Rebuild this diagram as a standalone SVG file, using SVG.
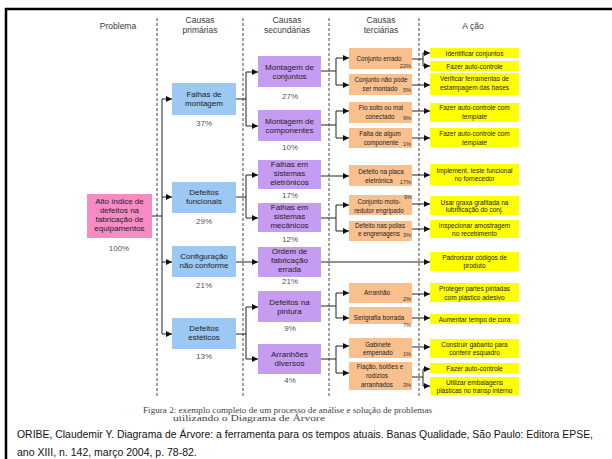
<svg xmlns="http://www.w3.org/2000/svg" width="612" height="459" viewBox="0 0 612 459">
  <defs>
    <marker id="ah" viewBox="0 0 6 6" refX="6" refY="3" markerWidth="6" markerHeight="6" markerUnits="userSpaceOnUse" orient="auto">
      <path d="M0,0 L6,3 L0,6 z" fill="#111"/>
    </marker>
    <style>
      text { font-family: "Liberation Sans", Arial, sans-serif; text-anchor: middle; fill: #222; }
      .hdr { font-size: 8.5px; fill: #3a3a3a; }
      .big { font-size: 8px; }
      .pct { font-size: 8px; fill: #555; }
      .sm { font-size: 6.3px; }
      .act { font-size: 6.5px; }
      .tp { font-size: 5.6px; text-anchor: end; fill: #333; }
      .it { font-style: italic; }
      .prob { fill: #F78BC3; }
      .prim { fill: #9CC8F4; }
      .sec { fill: #C69CF2; }
      .ter { fill: #F9C08E; }
      .yel { fill: #FFFF00; }
      .ln { stroke: #222; stroke-width: 1; fill: none; }
      .ar { stroke: #222; stroke-width: 1; fill: none; marker-end: url(#ah); }
      .dash { stroke: #333; stroke-width: 0.9; stroke-dasharray: 3 2; fill: none; }
      .cap { font-family: "Liberation Serif", "Times New Roman", serif; font-size: 7.5px; fill: #444; text-anchor: start; }
      .ref { font-size: 10.5px; fill: #111; text-anchor: start; }
    </style>
  </defs>

  <rect width="612" height="459" fill="#fff"/>

  <!-- page frame -->
  <path d="M6,459 V9 H612" stroke="#000" stroke-width="2.5" fill="none"/>

  <!-- column headers -->
  <g id="headers">
    <text class="hdr" x="118" y="29">Problema</text>
    <text class="hdr" x="200" y="23">Causas</text>
    <text class="hdr" x="200" y="33">primárias</text>
    <text class="hdr" x="287" y="23">Causas</text>
    <text class="hdr" x="287" y="33">secundárias</text>
    <text class="hdr" x="381" y="23">Causas</text>
    <text class="hdr" x="381" y="33">terciárias</text>
    <text class="hdr" x="473" y="29">A ção</text>
  </g>

  <!-- column separators -->
  <g id="separators">
    <path class="dash" d="M157,18 V397"/>
    <path class="dash" d="M243,18 V397"/>
    <path class="dash" d="M329,18 V397"/>
    <path class="dash" d="M419,18 V397"/>
  </g>

  <!-- connectors -->
  <g id="connectors">
    <!-- problem to primary causes -->
    <path class="ln" d="M152,216 H162 M162,99 V334"/>
    <path class="ar" d="M162,99 H172"/>
    <path class="ar" d="M162,197 H172"/>
    <path class="ar" d="M162,262 H172"/>
    <path class="ar" d="M162,334 H172"/>

    <!-- primary to secondary -->
    <path class="ln" d="M236,99 H246 M246,72 V126"/>
    <path class="ar" d="M246,72 H258"/>
    <path class="ar" d="M246,126 H258"/>
    <path class="ln" d="M236,197 H246 M246,175 V218"/>
    <path class="ar" d="M246,175 H258"/>
    <path class="ar" d="M246,218 H258"/>
    <path class="ar" d="M236,262 H258"/>
    <path class="ln" d="M236,334 H246 M246,307 V359"/>
    <path class="ar" d="M246,307 H258"/>
    <path class="ar" d="M246,359 H258"/>

    <!-- secondary to tertiary -->
    <path class="ln" d="M321,71 H336 M336,58 V85"/>
    <path class="ar" d="M336,58 H349"/>
    <path class="ar" d="M336,85 H349"/>
    <path class="ln" d="M321,125 H336 M336,111 V138"/>
    <path class="ar" d="M336,111 H349"/>
    <path class="ar" d="M336,138 H349"/>
    <path class="ar" d="M321,176 H349"/>
    <path class="ln" d="M321,218 H336 M336,205 V231"/>
    <path class="ar" d="M336,205 H349"/>
    <path class="ar" d="M336,231 H349"/>
    <path class="ar" d="M321,262 H430"/>
    <path class="ln" d="M321,306 H336 M336,293 V318"/>
    <path class="ar" d="M336,293 H349"/>
    <path class="ar" d="M336,318 H349"/>
    <path class="ln" d="M321,359 H336 M336,346 V373"/>
    <path class="ar" d="M336,346 H349"/>
    <path class="ar" d="M336,373 H349"/>

    <!-- tertiary to actions -->
    <path class="ln" d="M412,59 H423 M423,53 V66"/>
    <path class="ar" d="M423,53 H430"/>
    <path class="ar" d="M423,66 H430"/>
    <path class="ar" d="M412,85 H430"/>
    <path class="ar" d="M412,111 H430"/>
    <path class="ar" d="M412,138 H430"/>
    <path class="ar" d="M412,175 H430"/>
    <path class="ar" d="M412,204 H430"/>
    <path class="ar" d="M412,229 H430"/>
    <path class="ar" d="M412,294 H430"/>
    <path class="ar" d="M412,318 H430"/>
    <path class="ar" d="M412,347 H430"/>
    <path class="ln" d="M412,377 H423 M423,369 V386"/>
    <path class="ar" d="M423,369 H430"/>
    <path class="ar" d="M423,386 H430"/>
  </g>

  <!-- problem -->
  <g id="problem">
    <rect class="prob" x="87" y="194" width="65" height="44"/>
    <text class="big" x="119.5" y="204">Alto índice de</text>
    <text class="big" x="119.5" y="213">defeitos na</text>
    <text class="big" x="119.5" y="222">fabricação de</text>
    <text class="big" x="119.5" y="231">equipamentos</text>
    <text class="pct" x="119" y="251">100%</text>
  </g>

  <!-- primary causes -->
  <g id="p-montagem">
    <rect class="prim" x="172" y="83" width="64" height="32"/>
    <text class="big" x="204" y="97">Falhas de</text>
    <text class="big" x="204" y="106">montagem</text>
    <text class="pct" x="204" y="126">37%</text>
  </g>
  <g id="p-funcionais">
    <rect class="prim" x="172" y="182" width="64" height="31"/>
    <text class="big" x="204" y="195">Defeitos</text>
    <text class="big" x="204" y="204">funcionais</text>
    <text class="pct" x="204" y="224">29%</text>
  </g>
  <g id="p-configuracao">
    <rect class="prim" x="172" y="246" width="64" height="31"/>
    <text class="big" x="204" y="259">Configuração</text>
    <text class="big" x="204" y="268">não conforme</text>
    <text class="pct" x="204" y="288">21%</text>
  </g>
  <g id="p-esteticos">
    <rect class="prim" x="172" y="318" width="64" height="31"/>
    <text class="big" x="204" y="331">Defeitos</text>
    <text class="big" x="204" y="340">estéticos</text>
    <text class="pct" x="204" y="359">13%</text>
  </g>

  <!-- secondary causes -->
  <g id="s-conjuntos">
    <rect class="sec" x="258" y="56" width="63" height="31"/>
    <text class="big" x="289.5" y="70">Montagem de</text>
    <text class="big" x="289.5" y="79">conjuntos</text>
    <text class="pct" x="290" y="99">27%</text>
  </g>
  <g id="s-componentes">
    <rect class="sec" x="258" y="110" width="63" height="31"/>
    <text class="big" x="289.5" y="124">Montagem de</text>
    <text class="big" x="289.5" y="133">componentes</text>
    <text class="pct" x="290" y="150">10%</text>
  </g>
  <g id="s-eletronicos">
    <rect class="sec" x="258" y="160" width="63" height="29"/>
    <text class="big" x="289.5" y="167">Falhas em</text>
    <text class="big" x="289.5" y="176">sistemas</text>
    <text class="big" x="289.5" y="185">eletrônicos</text>
    <text class="pct" x="290" y="198">17%</text>
  </g>
  <g id="s-mecanicos">
    <rect class="sec" x="258" y="203" width="63" height="29"/>
    <text class="big" x="289.5" y="210">Falhas em</text>
    <text class="big" x="289.5" y="219">sistemas</text>
    <text class="big" x="289.5" y="228">mecânicos</text>
    <text class="pct" x="290" y="242">12%</text>
  </g>
  <g id="s-ordem">
    <rect class="sec" x="258" y="247" width="63" height="30"/>
    <text class="big" x="289.5" y="254">Ordem de</text>
    <text class="big" x="289.5" y="263">fabricação</text>
    <text class="big" x="289.5" y="272">errada</text>
    <text class="pct" x="290" y="284">21%</text>
  </g>
  <g id="s-pintura">
    <rect class="sec" x="258" y="291" width="63" height="31"/>
    <text class="big" x="289.5" y="305">Defeitos na</text>
    <text class="big" x="289.5" y="314">pintura</text>
    <text class="pct" x="290" y="331">9%</text>
  </g>
  <g id="s-arranhoes">
    <rect class="sec" x="258" y="344" width="63" height="30"/>
    <text class="big" x="289.5" y="357">Arranhões</text>
    <text class="big" x="289.5" y="366">diversos</text>
    <text class="pct" x="290" y="383">4%</text>
  </g>

  <!-- tertiary causes -->
  <g id="t-errado">
    <rect class="ter" x="349" y="48" width="63" height="21"/>
    <text class="sm" x="379" y="61">Conjunto errado</text>
    <text class="tp" x="411" y="68">22%</text>
  </g>
  <g id="t-montado">
    <rect class="ter" x="349" y="74" width="63" height="21"/>
    <text class="sm" x="381" y="82">Conjunto não pode</text>
    <text class="sm" x="380" y="91">ser montado</text>
    <text class="tp" x="411" y="92">5%</text>
  </g>
  <g id="t-fio">
    <rect class="ter" x="349" y="102" width="63" height="21"/>
    <text class="sm" x="381" y="110">Fio solto ou mal</text>
    <text class="sm" x="380" y="119">conectado</text>
    <text class="tp" x="411" y="120">9%</text>
  </g>
  <g id="t-falta">
    <rect class="ter" x="349" y="128" width="63" height="20"/>
    <text class="sm" x="380" y="136">Falta de algum</text>
    <text class="sm" x="381" y="145">componente</text>
    <text class="tp" x="411" y="146">1%</text>
  </g>
  <g id="t-placa">
    <rect class="ter" x="349" y="165" width="63" height="21"/>
    <text class="sm" x="381" y="174">Defeito na placa</text>
    <text class="sm" x="379" y="183">eletrônica</text>
    <text class="tp" x="411" y="184">17%</text>
  </g>
  <g id="t-motoredutor">
    <rect class="ter" x="349" y="195" width="63" height="20"/>
    <text class="sm" x="379" y="204">Conjunto moto-</text>
    <text class="sm" x="379" y="213">redutor engripado</text>
    <text class="tp" x="412" y="199">9%</text>
  </g>
  <g id="t-polias">
    <rect class="ter" x="349" y="221" width="63" height="20"/>
    <text class="sm" x="380" y="228">Defeito nas polias</text>
    <text class="sm" x="379" y="236">e engrenagens</text>
    <text class="tp" x="411" y="237">3%</text>
  </g>
  <g id="t-arranhao">
    <rect class="ter" x="349" y="283" width="63" height="20"/>
    <text class="sm" x="377" y="295">Arranhão</text>
    <text class="tp" x="411" y="301">2%</text>
  </g>
  <g id="t-serigrafia">
    <rect class="ter" x="349" y="307" width="63" height="17"/>
    <text class="sm" x="379" y="320">Serigrafia borrada</text>
    <text class="tp" x="411" y="327">7%</text>
  </g>
  <g id="t-gabinete">
    <rect class="ter" x="349" y="338" width="63" height="20"/>
    <text class="sm" x="378" y="347">Gabinete</text>
    <text class="sm" x="378" y="355">empenado</text>
    <text class="tp" x="411" y="356">1%</text>
  </g>
  <g id="t-fiacao">
    <rect class="ter" x="349" y="362" width="63" height="28"/>
    <text class="sm" x="380" y="369">Fiação, botões e</text>
    <text class="sm" x="377" y="378">rodízios</text>
    <text class="sm" x="377" y="387">arranhados</text>
    <text class="tp" x="411" y="387">3%</text>
  </g>

  <!-- actions -->
  <g id="a-identificar">
    <rect class="yel" x="430" y="48" width="89" height="10"/>
    <text class="act" x="474.5" y="56">Identificar conjuntos</text>
  </g>
  <g id="a-autocontrole1">
    <rect class="yel" x="430" y="61" width="89" height="10"/>
    <text class="act" x="474.5" y="68.5">Fazer auto-controle</text>
  </g>
  <g id="a-ferramentas">
    <rect class="yel" x="430" y="73" width="89" height="22"/>
    <text class="act" x="474.5" y="81">Verificar ferramentas de</text>
    <text class="act" x="474.5" y="90">estampagem das bases</text>
  </g>
  <g id="a-template1">
    <rect class="yel" x="430" y="103" width="89" height="19"/>
    <text class="act" x="474.5" y="110">Fazer auto-controle com</text>
    <text class="act it" x="474.5" y="119">template</text>
  </g>
  <g id="a-template2">
    <rect class="yel" x="430" y="128" width="89" height="19"/>
    <text class="act" x="474.5" y="136">Fazer auto-controle com</text>
    <text class="act it" x="474.5" y="145">template</text>
  </g>
  <g id="a-teste">
    <rect class="yel" x="430" y="164" width="89" height="21"/>
    <text class="act" x="474.5" y="173">Implement. teste funcional</text>
    <text class="act" x="474.5" y="181">no fornecedor</text>
  </g>
  <g id="a-graxa">
    <rect class="yel" x="430" y="196" width="89" height="19"/>
    <text class="act" x="474.5" y="205">Usar graxa grafitada na</text>
    <text class="act" x="474.5" y="212">lubrificação do conj.</text>
  </g>
  <g id="a-amostragem">
    <rect class="yel" x="430" y="220" width="89" height="18"/>
    <text class="act" x="474.5" y="228">Inspecionar amostragem</text>
    <text class="act" x="474.5" y="236">no recebimento</text>
  </g>
  <g id="a-padronizar">
    <rect class="yel" x="430" y="252" width="89" height="19"/>
    <text class="act" x="474.5" y="260">Padronizar códigos de</text>
    <text class="act" x="474.5" y="268">produto</text>
  </g>
  <g id="a-proteger">
    <rect class="yel" x="430" y="283" width="89" height="19"/>
    <text class="act" x="474.5" y="291">Proteger partes pintadas</text>
    <text class="act" x="474.5" y="300">com plástico adesivo</text>
  </g>
  <g id="a-cura">
    <rect class="yel" x="430" y="314" width="89" height="10"/>
    <text class="act" x="474.5" y="321.5">Aumentar tempo de cura</text>
  </g>
  <g id="a-gabarito">
    <rect class="yel" x="430" y="339" width="89" height="19"/>
    <text class="act" x="474.5" y="347">Construir gabarito para</text>
    <text class="act" x="474.5" y="355">conferir esquadro</text>
  </g>
  <g id="a-autocontrole2">
    <rect class="yel" x="430" y="363" width="89" height="10"/>
    <text class="act" x="474.5" y="370.5">Fazer auto-controle</text>
  </g>
  <g id="a-embalagens">
    <rect class="yel" x="430" y="377" width="89" height="18"/>
    <text class="act" x="474.5" y="385">Utilizar embalagens</text>
    <text class="act" x="474.5" y="393">plásticas no transp interno</text>
  </g>

  <!-- figure caption and reference -->
  <g id="caption">
    <text class="cap" x="143" y="413" textLength="289" lengthAdjust="spacingAndGlyphs">Figura 2: exemplo completo de um processo de análise e solução de problemas</text>
    <text class="cap" x="173" y="421" textLength="152" lengthAdjust="spacingAndGlyphs">utilizando o Diagrama de Árvore</text>
    <text class="ref" x="17" y="438" textLength="576" lengthAdjust="spacingAndGlyphs">ORIBE, Claudemir Y. Diagrama de Árvore: a ferramenta para os tempos atuais. Banas Qualidade, São Paulo: Editora EPSE,</text>
    <text class="ref" x="17" y="456">ano XIII, n. 142, março 2004, p. 78-82.</text>
  </g>
</svg>
